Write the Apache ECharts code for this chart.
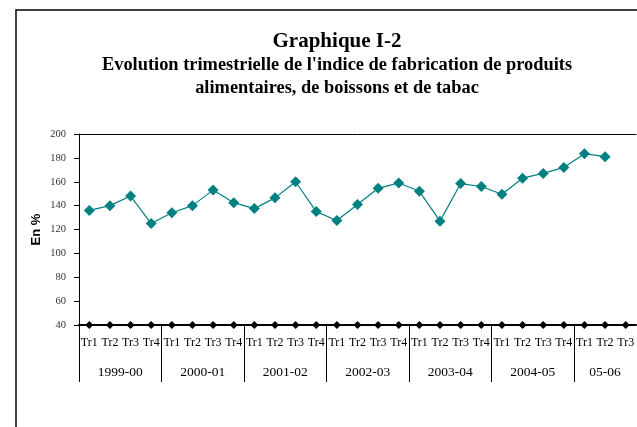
<!DOCTYPE html>
<html>
<head>
<meta charset="utf-8">
<script src="https://cdn.jsdelivr.net/npm/echarts@6/dist/echarts.min.js"></script>
<style>
  html, body { margin: 0; padding: 0; background: #fff; }
  #chart { width: 637px; height: 427px; }
</style>
</head>
<body>
<div id="chart"></div>
<script>
// exercices (the last one is only partly shown)
const years = ['1999-00', '2000-01', '2001-02', '2002-03', '2003-04', '2004-05', '05-06'];
const quarters = ['Tr1', 'Tr2', 'Tr3', 'Tr4'];
const lastYearQuarters = 3;

// indice de fabrication (en %)
const indice = [136, 140, 148, 125, 134, 140, 153, 142.5,
                137.5, 146.5, 160, 135, 127.5, 141, 154.5, 159,
                152, 127, 158.5, 156, 149.5, 163, 167, 172,
                183.5, 181];

// black markers along the base line
const base = [40, 40, 40, 40, 40, 40, 40, 40, 40, 40, 40, 40, 40, 40,
              40, 40, 40, 40, 40, 40, 40, 40, 40, 40, 40, 40, 40];

const yTicks = { min: 40, max: 200, step: 20 };

// quarter labels for every category
const quarterLabels = [];
years.forEach((y, i) => {
  const n = i === years.length - 1 ? lastYearQuarters : quarters.length;
  for (let q = 0; q < n; q++) quarterLabels.push(quarters[q]);
});

// year axis built on half-quarter slots so labels sit in the middle of each group
const yearSlots = new Array(quarterLabels.length * 2 + 1).fill('');
years.forEach((y, i) => {
  const n = i === years.length - 1 ? lastYearQuarters : quarters.length;
  yearSlots[i * 8 + n] = y;
});

const chart = echarts.init(document.getElementById('chart'));
const serif = 'Liberation Serif';

const option = {
  animation: false,
  backgroundColor: '#fff',
  graphic: [{
    type: 'rect',
    shape: { x: 16, y: 10, width: 800, height: 600 },
    style: { fill: 'none', stroke: '#000', lineWidth: 1.5 },
    silent: true
  }],
  title: [
    {
      text: 'Graphique I-2',
      left: 332, top: 26, textAlign: 'center',
      textStyle: { fontFamily: serif, fontWeight: 'bold', fontSize: 21, color: '#000' }
    },
    {
      text: "Evolution trimestrielle de l'indice de fabrication de produits\nalimentaires, de boissons et de tabac",
      left: 332, top: 49, textAlign: 'center',
      textStyle: { fontFamily: serif, fontWeight: 'bold', fontSize: 18.4, lineHeight: 23, color: '#000' }
    }
  ],
  grid: { left: 79, top: 134, width: 565, height: 191 },
  xAxis: [
    {
      type: 'category',
      data: quarterLabels,
      position: 'bottom',
      boundaryGap: true,
      axisLine: { onZero: false, lineStyle: { color: '#000', width: 2 } },
      axisTick: { show: false },
      axisLabel: { interval: 0, margin: 12, fontFamily: serif, fontSize: 12, color: '#000' }
    },
    {
      type: 'category',
      data: yearSlots,
      position: 'bottom',
      boundaryGap: false,
      axisLine: { show: false, onZero: false },
      axisTick: {
        show: true, length: 57,
        interval: (i) => i % 8 === 0 && i < yearSlots.length - 1,
        lineStyle: { color: '#000', width: 1 }
      },
      axisLabel: {
        interval: (i, v) => v !== '',
        margin: 40, fontFamily: serif, fontSize: 13.5, color: '#000'
      },
      splitLine: { show: false }
    },
    {
      type: 'category',
      data: quarterLabels,
      position: 'top',
      axisLine: { onZero: false, lineStyle: { color: '#000', width: 1 } },
      axisTick: { show: false },
      axisLabel: { show: false }
    }
  ],
  yAxis: {
    type: 'value',
    min: yTicks.min, max: yTicks.max, interval: yTicks.step,
    name: 'En %',
    nameLocation: 'middle',
    nameGap: 36,
    nameMoveOverlap: false,
    nameTextStyle: { fontFamily: 'Liberation Sans', fontWeight: 'bold', fontSize: 13, color: '#000' },
    axisLine: { show: true, lineStyle: { color: '#000', width: 1 } },
    axisTick: { show: true, length: 5, lineStyle: { color: '#000' } },
    axisLabel: { margin: 13, fontFamily: serif, fontSize: 10.5, color: '#333' },
    splitLine: { show: false }
  },
  series: [
    {
      type: 'line',
      data: indice,
      xAxisIndex: 0,
      symbol: 'diamond',
      symbolSize: 11,
      itemStyle: { color: '#008080' },
      lineStyle: { color: '#008080', width: 1.2 },
      z: 3
    },
    {
      type: 'line',
      data: base,
      xAxisIndex: 0,
      symbol: 'diamond',
      symbolSize: 8,
      itemStyle: { color: '#000' },
      lineStyle: { color: '#000', width: 2 },
      clip: false,
      z: 4
    }
  ]
};

chart.setOption(option);
window.addEventListener('resize', () => chart.resize());
</script>
</body>
</html>
